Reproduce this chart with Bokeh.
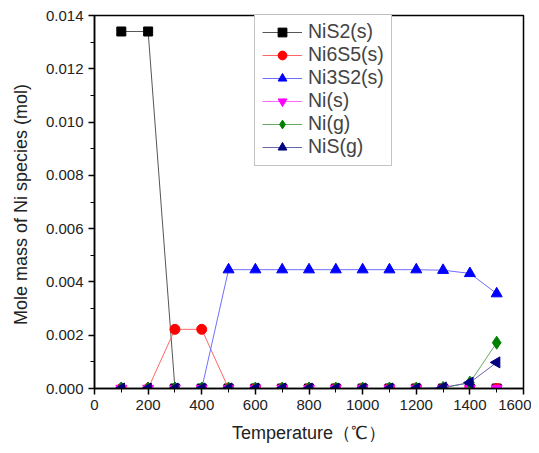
import math
from bokeh.plotting import figure
from bokeh.models import Legend, LegendItem, ColumnDataSource, FixedTicker, CustomJSTickFormatter
from bokeh.embed import file_html
from bokeh.resources import INLINE

temps = [100, 200, 300, 400, 500, 600, 700, 800, 900, 1000, 1100, 1200, 1300, 1400, 1500]
nis2 = [0.0134, 0.0134, 0, 0, 0, 0, 0, 0, 0, 0, 0, 0, 0, 0, 0]
ni6s5 = [0, 0, 0.00222, 0.00222, 0, 0, 0, 0, 0, 0, 0, 0, 0, 0, 0]
ni3s2 = [0, 0, 0, 0, 0.00446, 0.00446, 0.00446, 0.00446, 0.00446, 0.00446, 0.00446, 0.00446, 0.00444, 0.00432, 0.00356]
ni_s = [0, 0, 0, 0, 0, 0, 0, 0, 0, 0, 0, 0, 0, 0, 0]
ni_g = [0, 0, 0, 0, 0, 0, 0, 0, 0, 0, 0, 0, 0.00002, 0.00022, 0.00172]
nis_g = [0, 0, 0, 0, 0, 0, 0, 0, 0, 0, 0, 0, 0.00004, 0.00022, 0.00098]

x_ticks = [0, 200, 400, 600, 800, 1000, 1200, 1400, 1600]
y_ticks = [0, 0.002, 0.004, 0.006, 0.008, 0.010, 0.012, 0.014]

# name, values, marker colour, line colour, marker, angle, size
series = [
    ("NiS2(s)", nis2, "black", "#555555", "square", 0, 9),
    ("Ni6S5(s)", ni6s5, "red", "#ff6666", "circle", 0, 10),
    ("Ni3S2(s)", ni3s2, "blue", "#6f6fff", "triangle", 0, 11),
    ("Ni(s)", ni_s, "magenta", "#ff66ff", "inverted_triangle", 0, 11),
    ("Ni(g)", ni_g, "green", "#66aa66", "diamond", 0, 13),
    ("NiS(g)", nis_g, "navy", "#6666aa", "triangle", math.pi / 2, 11),
]

p = figure(width=531, height=445, x_range=(0, 1600), y_range=(0, 0.014),
           output_backend="svg", toolbar_location=None,
           min_border_left=94, min_border_right=8, min_border_top=15, min_border_bottom=54)
p.xgrid.visible = False
p.ygrid.visible = False
p.outline_line_color = "black"
p.outline_line_width = 1.5
p.background_fill_color = "white"
p.border_fill_color = "white"

items = []
for name, ys, mc, lc, marker, ang, sz in series:
    src = ColumnDataSource(dict(x=temps, y=ys))
    r1 = p.line("x", "y", source=src, line_color=lc, line_width=1)
    r2 = p.scatter("x", "y", source=src, marker=marker, size=sz,
                   fill_color=mc, line_color=mc, angle=ang)
    items.append(LegendItem(label=name, renderers=[r1, r2]))

legend = Legend(items=items, location=(160, 222), label_text_font="Liberation Sans",
                label_text_font_size="19.5px", border_line_color="#888888", border_line_width=1,
                glyph_width=40, glyph_height=22, label_height=22, spacing=0, padding=7,
                label_standoff=6, margin=0, background_fill_alpha=1)
p.add_layout(legend)

p.xaxis.ticker = FixedTicker(ticks=x_ticks, minor_ticks=list(range(100, 1600, 200)))
p.yaxis.ticker = FixedTicker(ticks=y_ticks,
                             minor_ticks=[0.001, 0.003, 0.005, 0.007, 0.009, 0.011, 0.013])
p.yaxis.formatter = CustomJSTickFormatter(code="return tick.toFixed(3);")

for ax in (p.xaxis[0], p.yaxis[0]):
    ax.axis_line_color = "black"
    ax.axis_line_width = 1.5
    ax.major_tick_line_width = 1.5
    ax.major_tick_out = 6
    ax.major_tick_in = 0
    ax.minor_tick_out = 4
    ax.minor_tick_in = 0
    ax.major_label_text_font = "Liberation Sans"
    ax.major_label_text_font_size = "15px"
    ax.major_label_text_color = "#222222"
    ax.axis_label_text_font = "Liberation Sans"
    ax.axis_label_text_font_size = "18px"
    ax.axis_label_text_font_style = "normal"
    ax.axis_label_text_color = "#222222"

p.xaxis.axis_label = "Temperature（℃）"
p.yaxis.axis_label = "Mole mass of Ni species  (mol)"
p.xaxis.axis_label_standoff = 10
p.yaxis.axis_label_standoff = 12

open("out.html", "w").write(file_html(p, INLINE))
